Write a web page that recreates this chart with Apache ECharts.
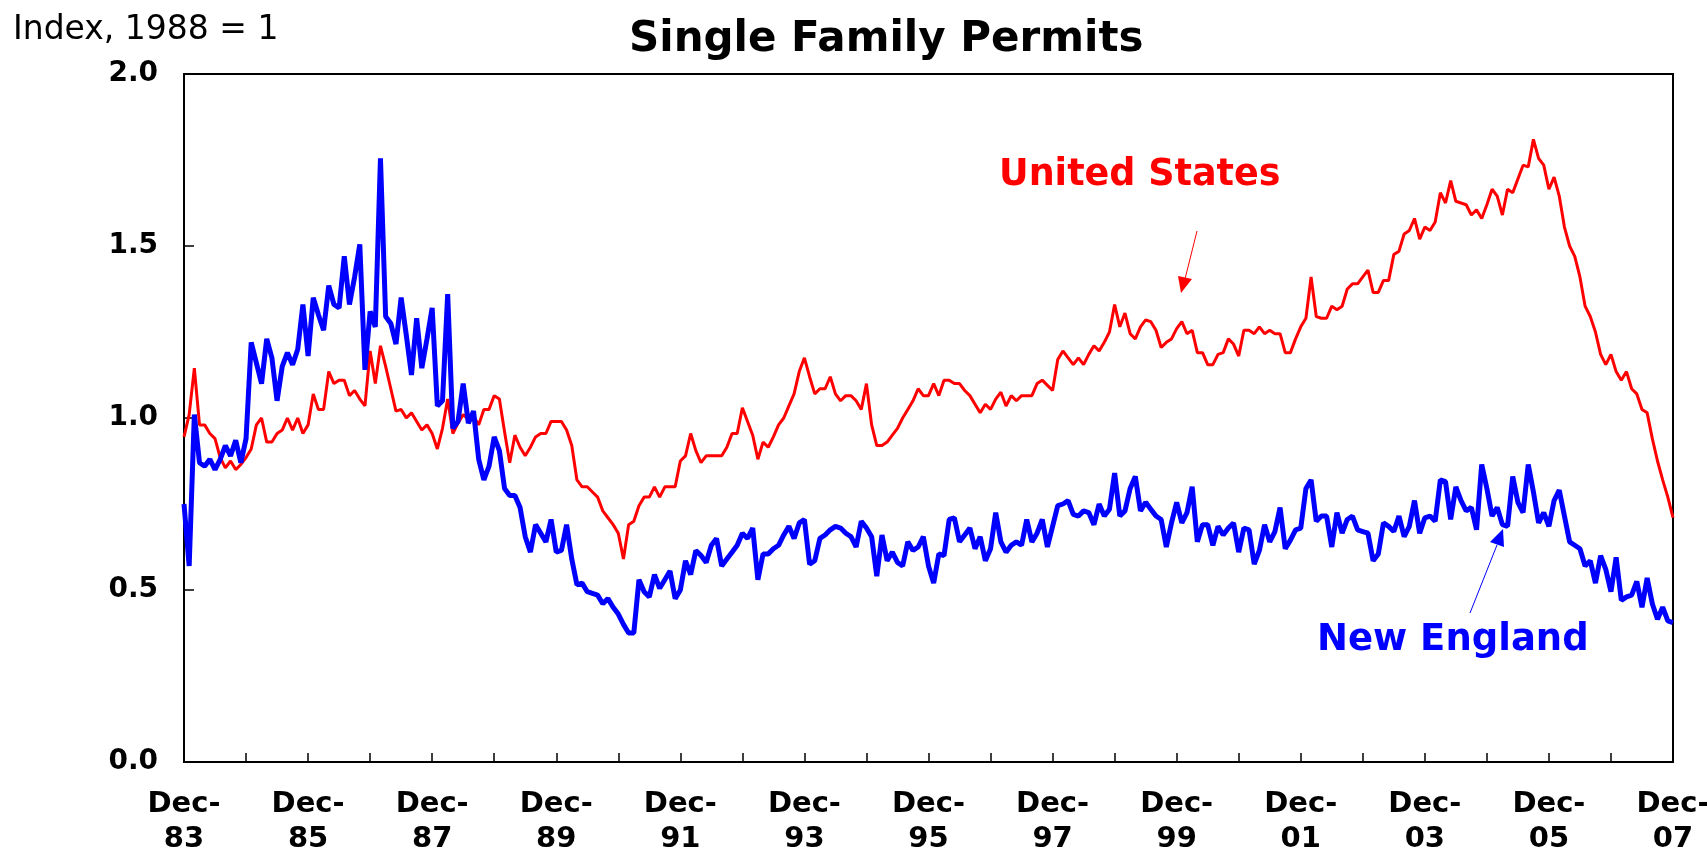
<!DOCTYPE html>
<html>
<head>
<meta charset="utf-8">
<title>Single Family Permits</title>
<script src="https://cdn.jsdelivr.net/npm/echarts@6/dist/echarts.min.js"></script>
<style>
  html, body { margin: 0; padding: 0; background: #fff; }
  #chart { width: 1707px; height: 849px; }
</style>
</head>
<body>
<div id="chart"></div>
<script>
// monthly index, 1988 = 1, Dec-83 .. Dec-07 (one row per 12 months)
var newEngland = [
  0.75, 0.57, 1.01, 0.87, 0.86, 0.88, 0.85, 0.88, 0.92, 0.89, 0.935, 0.87,
  0.94, 1.22, 1.16, 1.10, 1.23, 1.175, 1.05, 1.15, 1.19, 1.155, 1.20, 1.33,
  1.18, 1.35, 1.30, 1.255, 1.385, 1.33, 1.32, 1.47, 1.33, 1.41, 1.505, 1.14,
  1.31, 1.265, 1.755, 1.295, 1.275, 1.215, 1.35, 1.24, 1.125, 1.29, 1.145, 1.23,
  1.32, 1.035, 1.05, 1.36, 0.97, 0.99, 1.10, 0.985, 1.02, 0.88, 0.82, 0.86,
  0.945, 0.905, 0.795, 0.775, 0.775, 0.74, 0.655, 0.61, 0.69, 0.665, 0.64, 0.705,
  0.61, 0.615, 0.69, 0.59, 0.515, 0.52, 0.495, 0.49, 0.485, 0.46, 0.475, 0.45,
  0.43, 0.40, 0.375, 0.375, 0.53, 0.495, 0.48, 0.545, 0.505, 0.53, 0.555, 0.475,
  0.50, 0.585, 0.545, 0.615, 0.60, 0.58, 0.63, 0.65, 0.57, 0.59, 0.61, 0.63,
  0.665, 0.65, 0.68, 0.53, 0.605, 0.605, 0.62, 0.63, 0.66, 0.685, 0.65, 0.695,
  0.705, 0.575, 0.585, 0.65, 0.66, 0.675, 0.685, 0.68, 0.665, 0.655, 0.625, 0.70,
  0.68, 0.655, 0.54, 0.66, 0.585, 0.61, 0.58, 0.57, 0.64, 0.615, 0.625, 0.655,
  0.57, 0.52, 0.605, 0.60, 0.705, 0.71, 0.64, 0.66, 0.68, 0.62, 0.655, 0.585,
  0.62, 0.725, 0.64, 0.61, 0.63, 0.64, 0.63, 0.705, 0.64, 0.665, 0.705, 0.625,
  0.685, 0.745, 0.75, 0.76, 0.72, 0.715, 0.73, 0.725, 0.69, 0.75, 0.715, 0.735,
  0.84, 0.715, 0.73, 0.795, 0.83, 0.73, 0.755, 0.735, 0.715, 0.705, 0.625, 0.695,
  0.755, 0.695, 0.725, 0.80, 0.64, 0.69, 0.69, 0.63, 0.685, 0.66, 0.68, 0.695,
  0.61, 0.68, 0.675, 0.575, 0.615, 0.69, 0.64, 0.67, 0.74, 0.62, 0.645, 0.675,
  0.68, 0.795, 0.82, 0.70, 0.715, 0.715, 0.625, 0.725, 0.665, 0.705, 0.715, 0.675,
  0.67, 0.665, 0.585, 0.605, 0.695, 0.685, 0.67, 0.715, 0.655, 0.685, 0.76, 0.665,
  0.71, 0.715, 0.70, 0.82, 0.815, 0.705, 0.80, 0.76, 0.73, 0.74, 0.675, 0.865,
  0.795, 0.715, 0.74, 0.69, 0.685, 0.83, 0.755, 0.725, 0.865, 0.785, 0.695, 0.725,
  0.685, 0.76, 0.79, 0.715, 0.64, 0.63, 0.62, 0.57, 0.585, 0.52, 0.60, 0.56,
  0.495, 0.595, 0.47, 0.48, 0.485, 0.525, 0.45, 0.535, 0.46, 0.415, 0.45, 0.41,
  0.405
];

var unitedStates = [
  0.945, 1.01, 1.145, 0.98, 0.98, 0.955, 0.94, 0.885, 0.855, 0.875, 0.85, 0.865,
  0.885, 0.91, 0.98, 1.00, 0.93, 0.93, 0.955, 0.965, 1.00, 0.965, 1.00, 0.955,
  0.98, 1.07, 1.025, 1.025, 1.135, 1.10, 1.11, 1.11, 1.065, 1.08, 1.055, 1.035,
  1.195, 1.10, 1.21, 1.15, 1.085, 1.02, 1.025, 1.00, 1.015, 0.99, 0.965, 0.98,
  0.955, 0.91, 0.97, 1.055, 0.955, 0.985, 1.01, 0.995, 1.005, 0.98, 1.025, 1.025,
  1.065, 1.055, 0.96, 0.87, 0.95, 0.915, 0.89, 0.915, 0.945, 0.955, 0.955, 0.99,
  0.99, 0.99, 0.965, 0.92, 0.82, 0.80, 0.80, 0.785, 0.77, 0.73, 0.71, 0.69,
  0.665, 0.59, 0.69, 0.70, 0.745, 0.77, 0.77, 0.80, 0.77, 0.80, 0.80, 0.80,
  0.875, 0.89, 0.955, 0.905, 0.87, 0.89, 0.89, 0.89, 0.89, 0.915, 0.955, 0.955,
  1.03, 0.99, 0.95, 0.88, 0.93, 0.915, 0.945, 0.98, 1.00, 1.035, 1.07, 1.135,
  1.175, 1.12, 1.07, 1.085, 1.085, 1.12, 1.07, 1.05, 1.065, 1.065, 1.05, 1.025,
  1.10, 0.98, 0.92, 0.92, 0.93, 0.95, 0.97, 1.00, 1.025, 1.05, 1.085, 1.065,
  1.065, 1.10, 1.065, 1.11, 1.11, 1.10, 1.10, 1.08, 1.065, 1.04, 1.015, 1.04,
  1.025, 1.055, 1.075, 1.035, 1.065, 1.05, 1.065, 1.065, 1.065, 1.10, 1.11, 1.095,
  1.08, 1.17, 1.195, 1.175, 1.155, 1.175, 1.155, 1.185, 1.21, 1.195, 1.22, 1.25,
  1.33, 1.265, 1.305, 1.245, 1.23, 1.265, 1.285, 1.28, 1.255, 1.205, 1.22, 1.23,
  1.26, 1.28, 1.245, 1.255, 1.19, 1.19, 1.155, 1.155, 1.185, 1.19, 1.23, 1.215,
  1.18, 1.255, 1.255, 1.245, 1.265, 1.245, 1.255, 1.245, 1.245, 1.19, 1.19, 1.23,
  1.265, 1.29, 1.41, 1.295, 1.29, 1.29, 1.325, 1.315, 1.325, 1.375, 1.39, 1.39,
  1.41, 1.43, 1.365, 1.365, 1.40, 1.40, 1.475, 1.485, 1.535, 1.545, 1.58, 1.52,
  1.555, 1.545, 1.57, 1.655, 1.625, 1.69, 1.63, 1.625, 1.62, 1.59, 1.605, 1.58,
  1.62, 1.665, 1.645, 1.59, 1.665, 1.655, 1.695, 1.735, 1.73, 1.81, 1.755, 1.735,
  1.665, 1.70, 1.645, 1.555, 1.50, 1.47, 1.41, 1.325, 1.295, 1.25, 1.185, 1.155,
  1.185, 1.135, 1.11, 1.135, 1.085, 1.07, 1.025, 1.015, 0.94, 0.875, 0.82, 0.77,
  0.71
];

var monthNames = ['Jan', 'Feb', 'Mar', 'Apr', 'May', 'Jun', 'Jul', 'Aug', 'Sep', 'Oct', 'Nov', 'Dec'];
var yTicks = [0, 0.5, 1.0, 1.5, 2.0];

// category labels: Dec-83, Jan-84, ... Dec-07
var months = [];
for (var k = 0; k < newEngland.length; k++) {
  var m = (11 + k) % 12;
  var yr = 1983 + Math.floor((11 + k) / 12);
  months.push(monthNames[m] + '-' + String(yr).slice(2));
}

var FONT = 'DejaVu Sans';
var chart = echarts.init(document.getElementById('chart'));

chart.setOption({
  backgroundColor: '#fff',
  animation: false,
  grid: {
    left: 184,
    right: 34,
    top: 74,
    bottom: 87,
    outerBoundsMode: 'none',
    containLabel: false,
    show: true,
    borderColor: '#000',
    borderWidth: 2,
    backgroundColor: '#fff'
  },
  xAxis: {
    type: 'category',
    data: months,
    boundaryGap: false,
    axisLine: { lineStyle: { color: '#000', width: 2 } },
    axisTick: {
      inside: true,
      length: 9,
      lineStyle: { color: '#000', width: 1.5 },
      interval: function (idx) { return idx % 12 === 0; }
    },
    axisLabel: {
      interval: function (idx) { return idx % 24 === 0; },
      formatter: function (v) { return v.replace('-', '-\n'); },
      color: '#000',
      fontFamily: FONT,
      fontWeight: 'bold',
      fontSize: 29,
      lineHeight: 35,
      margin: 25
    },
    splitLine: { show: false }
  },
  yAxis: {
    type: 'value',
    min: yTicks[0],
    max: yTicks[yTicks.length - 1],
    interval: 0.5,
    axisLine: { show: true, lineStyle: { color: '#000', width: 2 } },
    axisTick: { show: true, inside: true, length: 10, lineStyle: { color: '#000', width: 1.5 } },
    axisLabel: {
      formatter: function (v) { return v.toFixed(1); },
      color: '#000',
      fontFamily: FONT,
      fontWeight: 'bold',
      fontSize: 28,
      margin: 26
    },
    splitLine: { show: false }
  },
  series: [
    {
      name: 'United States',
      type: 'line',
      data: unitedStates,
      symbol: 'none',
      lineStyle: { color: '#ff0000', width: 3 },
      z: 2
    },
    {
      name: 'New England',
      type: 'line',
      data: newEngland,
      symbol: 'none',
      lineStyle: { color: '#0000ff', width: 5 },
      z: 3
    }
  ],
  graphic: [
    {
      type: 'text',
      style: { x: 629, y: 40, text: 'Single Family Permits', fill: '#000',
        font: 'bold 42px "DejaVu Sans"', textVerticalAlign: 'middle' }
    },
    {
      type: 'text',
      style: { x: 13, y: 30, text: 'Index, 1988 = 1', fill: '#000',
        font: '33px "DejaVu Sans"', textVerticalAlign: 'middle' }
    },
    {
      type: 'text',
      style: { x: 999, y: 176, text: 'United States', fill: '#ff0000',
        font: 'bold 36.5px "DejaVu Sans"', textVerticalAlign: 'middle' }
    },
    {
      type: 'text',
      style: { x: 1317, y: 640, text: 'New England', fill: '#0000ff',
        font: 'bold 37px "DejaVu Sans"', textVerticalAlign: 'middle' }
    },
    // arrow to the US line
    {
      type: 'line',
      shape: { x1: 1197, y1: 231, x2: 1185, y2: 279 },
      style: { stroke: '#ff0000', lineWidth: 1 },
      z: 10
    },
    {
      type: 'polygon',
      shape: { points: [[1181, 293], [1178, 276], [1192, 279]] },
      style: { fill: '#ff0000' },
      z: 10
    },
    // arrow to the New England line
    {
      type: 'line',
      shape: { x1: 1470, y1: 613, x2: 1497, y2: 545 },
      style: { stroke: '#0000ff', lineWidth: 1 },
      z: 10
    },
    {
      type: 'polygon',
      shape: { points: [[1503, 529], [1490, 542], [1504, 547]] },
      style: { fill: '#0000ff' },
      z: 10
    }
  ]
});
</script>
</body>
</html>
